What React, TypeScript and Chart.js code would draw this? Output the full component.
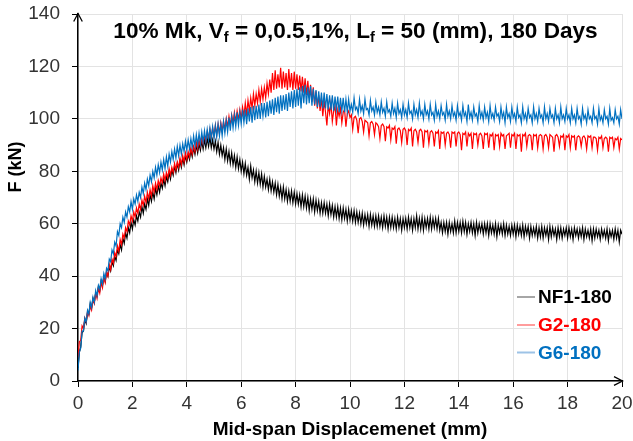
import React, { useEffect, useRef } from "react";
import { Chart, registerables } from "chart.js";

Chart.register(...registerables);

const DISP_STEP = 0.05;
const X_TICK_STEP = 2;
const Y_TICK_STEP = 20;

const SERIES_NAMES = ["NF1-180", "G2-180", "G6-180"];
const SERIES_COLORS = ["#000000", "#ff0000", "#0070c0"];
const LEGEND_LINE_COLORS = ["#a6a6a6", "#ff9c9c", "#9dc3e6"];

// one row per 1 mm of displacement (20 samples each)
const NF1 = [
  5, 11, 13, 18.5, 19, 23.5, 22, 26, 25.5, 29.5, 28, 31.5, 30, 33.5, 32.5, 36, 34.5, 38, 36.5, 39.5,
  38, 41.5, 40, 43.5, 42, 45.5, 44, 47.5, 46, 50, 48.5, 52, 50, 54.5, 52.5, 56.5, 54.5, 58.5, 56.5, 60.5,
  58, 61.5, 59.5, 63, 61, 64.5, 62.5, 66.5, 64, 67.5, 65.5, 69.5, 67, 71, 68.5, 72, 69.5, 73.5, 71, 74.5,
  72, 75.5, 73.5, 77, 74.5, 78, 76, 79.5, 77, 80.5, 78.5, 82, 79.5, 83, 80.5, 84, 81.5, 85, 82.5, 86,
  83.5, 86.5, 84.5, 88, 85.5, 89, 86.5, 90, 87, 90.5, 88, 91.5, 88.5, 92, 89, 92.5, 89.5, 93, 89, 92,
  88.5, 91.5, 87.5, 91, 86.5, 90, 86, 89, 84.5, 88.5, 84, 87.5, 83, 87, 82.5, 86, 81.5, 85.5, 81, 84.5,
  80, 83.5, 79, 83, 78.5, 81.5, 77, 82, 77.5, 80.5, 76, 80, 75.5, 79.5, 75, 79, 74, 78, 74, 77,
  73, 77, 72.5, 76, 72, 75.5, 71, 75, 70.5, 74, 69.5, 74, 69.5, 73, 68.5, 72.5, 68.5, 72.5, 68, 72,
  67.5, 71.5, 67.5, 71, 66.5, 71, 66.5, 70.5, 66, 70, 65, 69.5, 65.5, 69.5, 64.5, 69, 65, 68.5, 64, 68,
  64, 68, 64, 67.5, 63, 67.5, 63.5, 67, 62.5, 66.5, 62.5, 66.5, 62, 66, 61.5, 66, 62, 65.5, 61, 65.5,
  61.5, 65, 61, 65, 60.5, 64.5, 60.5, 64, 60, 64, 59.5, 63.5, 60, 63.5, 59, 63.5, 59.5, 63, 59, 63,
  59, 63, 59, 62.5, 58.5, 63, 59, 62.5, 58, 62.5, 58.5, 62.5, 58.5, 62, 58, 62.5, 58.5, 62, 57.5, 62,
  58.5, 62, 58, 62.5, 58.5, 62, 57.5, 62, 58.5, 63, 58, 62, 58, 62.5, 57.5, 62, 58.5, 62, 58, 62.5,
  58, 62, 58.5, 62, 58, 62, 57.5, 60.5, 56.5, 60.5, 57, 60.5, 56, 60.5, 57, 60, 56.5, 61, 56.5, 60.5,
  57, 60.5, 56.5, 61, 57, 60.5, 56, 60, 57, 60.5, 56.5, 60, 55.5, 60.5, 56.5, 60, 57, 60, 56, 60,
  56.5, 60, 55.5, 60, 56.5, 59.5, 56, 60, 55, 59.5, 56.5, 59.5, 56, 60, 55.5, 59.5, 56, 59, 55.5, 59.5,
  56, 59.5, 55, 59.5, 56, 59, 55.5, 59.5, 55, 59, 56, 59, 54.5, 59, 55.5, 58.5, 55.5, 59, 54.5, 58.5,
  55, 59, 54.5, 58.5, 55.5, 58.5, 54, 59, 55, 58.5, 55.5, 58, 54, 58.5, 55, 58.5, 54.5, 58, 55.5, 58.5,
  54.5, 58.5, 55, 58, 54, 58.5, 55.5, 58, 54.5, 58, 55, 58.5, 54, 58, 55, 57.5, 54.5, 58, 53.5, 58,
  54.5, 58, 55, 57.5, 54, 58, 55, 57.5, 54.5, 58, 53.5, 57.5, 55, 57.5, 54, 58, 54.5, 57.5, 53, 57.5,
  56,
];

const G2 = [
  9, 15, 15.5, 21, 20, 24, 22.5, 26.5, 25, 28.5, 27, 31, 29.5, 33.5, 31.5, 35.5, 33.5, 37.5, 35.5, 39.5,
  37.5, 41.5, 40, 44.5, 42.5, 46.5, 45, 49, 47.5, 51.5, 49.5, 54, 52, 56, 54.5, 58.5, 57, 61, 59.5, 63,
  61, 64.5, 62.5, 66, 64, 67.5, 65.5, 69, 67, 70.5, 68, 72, 69.5, 73, 70.5, 74.5, 72, 75.5, 73, 76.5,
  74.5, 77.5, 75.5, 79, 76.5, 79.5, 77.5, 81, 78.5, 81.5, 79.5, 83, 80.5, 83.5, 81.5, 85, 82.5, 86, 83.5, 87,
  84.5, 87.5, 85.5, 89, 86.5, 89.5, 87.5, 91, 88.5, 92, 89.5, 93, 90.5, 93.5, 91.5, 95, 92.5, 96, 93, 96.5,
  93.5, 97.5, 94, 98, 94.5, 98.5, 95.5, 99, 96, 100, 97, 101, 97.5, 101.5, 98.5, 102.5, 99, 103, 99.5, 103.5,
  100, 104.5, 101, 106, 101.5, 107, 103, 108, 104, 109.5, 105, 109.5, 106, 111, 106.5, 111.5, 107.5, 112, 108, 113.5,
  109.5, 115, 110, 117.5, 111, 118.5, 111.5, 117, 112, 119.5, 111.5, 118, 112, 117.5, 111, 119, 112, 117.5, 111, 118,
  111.5, 117, 111, 116.5, 110.5, 116, 110, 115.5, 109, 114.5, 108, 113, 106.5, 112, 105, 110.5, 104, 109, 103, 108,
  101, 107, 102.5, 97.5, 105.5, 102, 106, 99, 103, 105, 97.5, 103.5, 101, 104, 98.5, 102.5, 103.5, 97, 102, 103,
  100.5, 101.5, 96, 100.5, 101, 99.5, 94.5, 100, 100.5, 99, 95, 99.5, 99, 98.5, 93.5, 98.5, 99, 98, 94, 98.5,
  98, 97, 92.5, 97.5, 98, 97, 91.5, 97, 96.5, 97.5, 92, 96.5, 96, 97, 90.5, 96, 96.5, 95.5, 91, 96,
  96.5, 95.5, 90, 96, 95.5, 96.5, 89.5, 95.5, 96, 95, 91, 95.5, 96, 95, 89, 95.5, 95, 95.5, 90.5, 95,
  95.5, 94.5, 89.5, 95, 94.5, 95.5, 88.5, 95, 94.5, 95, 90, 94.5, 95, 94, 89, 95, 94.5, 95, 89.5, 94.5,
  95, 94, 88, 94.5, 94, 95, 89.5, 94.5, 93.5, 94.5, 88.5, 94.5, 94, 94.5, 90, 94, 94.5, 93.5, 88.5, 94.5,
  94, 94.5, 89, 94, 93.5, 94.5, 88, 94, 93.5, 94, 89.5, 94.5, 93.5, 94, 88.5, 93.5, 94, 94.5, 89, 94,
  93.5, 94.5, 88.5, 94, 93.5, 94, 87.5, 94, 93.5, 94.5, 89.5, 93.5, 94, 93.5, 88, 94, 93.5, 94, 89, 93.5,
  94, 93.5, 88.5, 93.5, 94, 93, 89, 94, 93.5, 93, 87.5, 93.5, 94, 93, 89.5, 93.5, 93, 94, 88, 93.5,
  93, 94, 89, 93.5, 93, 93.5, 88, 93, 93.5, 93, 89.5, 93, 93.5, 92.5, 88.5, 93.5, 93, 93.5, 89, 93,
  93, 92.5, 88, 93, 92.5, 93.5, 89, 92.5, 93, 92.5, 87.5, 93, 92.5, 93, 89, 92.5, 92, 93, 88.5, 92.5,
  92,
];

const G6 = [
  4, 11, 12.5, 19, 19, 24, 22.5, 27, 25.5, 30, 28, 32, 30, 34.5, 32.5, 36.5, 35, 39, 37, 41,
  39, 43, 42, 46.5, 45.5, 50, 48.5, 53, 51.5, 57, 55.5, 60, 58.5, 62.5, 60.5, 64.5, 62.5, 66.5, 64.5, 68.5,
  65.5, 69.5, 67.5, 71, 68.5, 72, 70, 74, 71.5, 75.5, 73, 77, 74.5, 78.5, 76, 80, 77.5, 81.5, 78.5, 82.5,
  79.5, 83.5, 80.5, 84.5, 81, 85.5, 82, 86.5, 83.5, 87.5, 84.5, 88.5, 85, 89.5, 86, 90, 86.5, 90.5, 87.5, 91.5,
  88, 92, 88.5, 92.5, 89, 93.5, 89.5, 94, 90, 94.5, 90.5, 95, 91, 95.5, 91.5, 96, 92, 96.5, 92.5, 97,
  92.5, 97.5, 93, 98, 93.5, 98, 93.5, 99, 94.5, 99.5, 95, 100.5, 95.5, 101, 96.5, 101.5, 97, 102.5, 97.5, 102.5,
  98, 103.5, 98.5, 103.5, 98, 104, 99, 104.5, 98.5, 105, 99.5, 105, 100, 105.5, 100, 106, 101, 106, 100.5, 106.5,
  101, 107, 102, 107.5, 101.5, 108, 102.5, 108.5, 102, 109, 103, 109, 103.5, 109.5, 103, 110, 104.5, 110.5, 104, 111,
  104.5, 111.5, 105, 112, 104, 112.5, 106, 113, 105.5, 112, 106, 112.5, 105, 111.5, 105.5, 111, 104.5, 110.5, 104.5, 110,
  104, 110, 104, 109.5, 103.5, 109, 103.5, 109, 103, 108.5, 103.5, 108.5, 102.5, 108, 103, 108, 102.5, 107.5, 102.5, 107.5,
  103, 105.5, 102.5, 108, 103.5, 104.5, 102, 107.5, 103, 105, 102, 107.5, 103.5, 104, 101.5, 107, 103, 104.5, 101.5, 106.5,
  102.5, 104.5, 101.5, 106.5, 102.5, 104, 101, 106.5, 102.5, 103.5, 101, 106, 102, 104, 100.5, 106, 102, 103.5, 100.5, 105.5,
  101.5, 103.5, 100.5, 106, 102, 103, 100, 105.5, 101.5, 103.5, 100.5, 106, 101.5, 103, 100, 105.5, 101.5, 103, 100, 105.5,
  101.5, 102.5, 99.5, 105.5, 101, 103, 100, 105, 101.5, 102.5, 99.5, 105.5, 101, 103, 100, 105, 101, 102.5, 99.5, 105,
  101, 102.5, 99.5, 105, 101, 102.5, 99, 105.5, 100.5, 102.5, 99.5, 104.5, 101, 102, 99, 105, 100.5, 102.5, 99.5, 104.5,
  100.5, 102.5, 99, 105, 100.5, 102, 99.5, 104.5, 101, 102, 99, 104.5, 100.5, 102.5, 98.5, 104.5, 100.5, 102, 99, 104.5,
  100.5, 102, 99, 104.5, 100.5, 101.5, 98.5, 104.5, 100, 102, 99, 104, 100.5, 101.5, 98.5, 104.5, 100, 102, 99, 104,
  100.5, 101.5, 98.5, 104.5, 100, 102, 99, 104, 100.5, 101.5, 98.5, 104, 100, 101.5, 98.5, 104.5, 100, 101.5, 99, 104,
  100, 101.5, 98.5, 104, 100, 101.5, 98.5, 104, 100, 101, 98, 104, 100, 101.5, 98.5, 103.5, 100, 101, 98.5, 104,
  100, 101, 98, 104, 99.5, 101, 98.5, 103.5, 100, 101, 98, 104, 99.5, 100.5, 98.5, 103.5, 100, 101, 98, 103.5,
  100,
];

const SERIES_VALUES = [NF1, G2, G6];

const FONT = "'Liberation Sans', Arial, Helvetica, sans-serif";

function toPoints(values: number[]) {
  return values.map((v, i) => ({ x: Math.round(i * DISP_STEP * 100) / 100, y: v }));
}

const overlayPlugin = {
  id: "overlay",
  afterDraw(chart: any) {
    const ctx = chart.ctx as CanvasRenderingContext2D;
    const area = chart.chartArea;
    ctx.save();

    // axis arrows
    ctx.strokeStyle = "#000";
    ctx.lineWidth = 1.3;
    ctx.beginPath();
    ctx.moveTo(area.left - 4.3, area.top + 7.5);
    ctx.lineTo(area.left, area.top - 0.5);
    ctx.lineTo(area.left + 4.3, area.top + 7.5);
    ctx.stroke();
    ctx.beginPath();
    ctx.moveTo(area.right - 8, area.bottom - 4.3);
    ctx.lineTo(area.right + 0.5, area.bottom);
    ctx.lineTo(area.right - 8, area.bottom + 4.3);
    ctx.stroke();

    // title with subscripts
    const parts: [string, boolean][] = [
      ["10% Mk, V", false],
      ["f", true],
      [" = 0,0.5,1%, L", false],
      ["f", true],
      [" = 50 (mm), 180 Days", false],
    ];
    const mainFont = `bold 22.6px ${FONT}`;
    const subFont = `bold 14.5px ${FONT}`;
    let total = 0;
    for (const [t, sub] of parts) {
      ctx.font = sub ? subFont : mainFont;
      total += ctx.measureText(t).width;
    }
    let x = 355.5 - total / 2;
    ctx.fillStyle = "#000";
    ctx.textBaseline = "alphabetic";
    ctx.textAlign = "left";
    for (const [t, sub] of parts) {
      ctx.font = sub ? subFont : mainFont;
      ctx.fillText(t, x, sub ? 42 : 37.5);
      x += ctx.measureText(t).width;
    }

    // axis titles
    ctx.font = `bold 19px ${FONT}`;
    ctx.textAlign = "center";
    ctx.fillText("Mid-span Displacemenet (mm)", (area.left + area.right) / 2, 435);
    ctx.save();
    ctx.translate(21, 167);
    ctx.rotate(-Math.PI / 2);
    ctx.font = `bold 18px ${FONT}`;
    ctx.fillText("F (kN)", 0, 0);
    ctx.restore();

    // legend
    const rows = [297, 325, 352.5];
    ctx.textAlign = "left";
    ctx.textBaseline = "middle";
    ctx.font = `bold 19px ${FONT}`;
    SERIES_NAMES.forEach((name, i) => {
      ctx.strokeStyle = LEGEND_LINE_COLORS[i];
      ctx.lineWidth = 2;
      ctx.beginPath();
      ctx.moveTo(517, rows[i]);
      ctx.lineTo(535, rows[i]);
      ctx.stroke();
      ctx.fillStyle = SERIES_COLORS[i];
      ctx.fillText(name, 538, rows[i] + 1);
    });
    ctx.restore();
  },
};

export default function App() {
  const canvasRef = useRef<HTMLCanvasElement | null>(null);

  useEffect(() => {
    document.body.style.margin = "0";
    const canvas = canvasRef.current;
    if (!canvas) return;
    const tickFont = { family: FONT, size: 19 };
    const chart = new Chart(canvas, {
      type: "line",
      data: {
        datasets: SERIES_NAMES.map((name, i) => ({
          label: name,
          data: toPoints(SERIES_VALUES[i]),
          borderColor: SERIES_COLORS[i],
          borderWidth: 1.2,
          pointRadius: 0,
          tension: 0,
          fill: false,
          order: 2 - i,
        })),
      },
      options: {
        responsive: false,
        animation: false,
        devicePixelRatio: 1,
        layout: { padding: { top: 14, right: 11, left: 0, bottom: 0 } },
        plugins: {
          legend: { display: false },
          tooltip: { enabled: false },
          title: { display: false },
        },
        scales: {
          x: {
            type: "linear",
            min: 0,
            max: 20,
            afterFit: (s: any) => {
              s.height = 60;
              s.paddingLeft = 0;
              s.paddingRight = 0;
            },
            ticks: { stepSize: X_TICK_STEP, font: tickFont, color: "#333", padding: 5, maxRotation: 0 },
            grid: { color: "#e3e3e3", tickColor: "#000", tickLength: 6, lineWidth: 1 },
            border: { color: "#000", width: 1.5 },
          },
          y: {
            type: "linear",
            min: 0,
            max: 140,
            afterFit: (s: any) => {
              s.width = 78;
              s.paddingTop = 0;
              s.paddingBottom = 0;
            },
            ticks: { stepSize: Y_TICK_STEP, font: tickFont, color: "#333", padding: 12 },
            grid: { color: "#e3e3e3", tickColor: "#000", tickLength: 6, lineWidth: 1 },
            border: { color: "#000", width: 1.5 },
          },
        },
      },
      plugins: [overlayPlugin],
    });
    return () => chart.destroy();
  }, []);

  return (
    <div style={{ width: 633, height: 441, position: "relative", background: "#fff" }}>
      <canvas ref={canvasRef} width={633} height={441} style={{ display: "block" }} />
    </div>
  );
}
